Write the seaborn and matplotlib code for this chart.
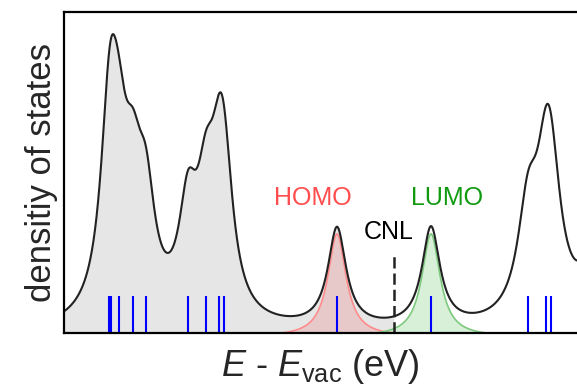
import numpy as np
import pandas as pd
import matplotlib
matplotlib.use("Agg")
import matplotlib.pyplot as plt
import seaborn as sns

# ---- data (energies in eV) ----
occupied_levels = [-10.20, -10.16, -10.00, -9.72, -9.46, -8.62, -8.26, -7.99, -7.89]
homo_level = -5.64
lumo_level = -3.76
unoccupied_levels = [-1.82, -1.46, -1.36]
hidden_levels = [-0.30, -0.25]          # just beyond the right edge (only their tails show)
cnl = -4.50
gamma_low = 0.22                         # Lorentzian half width (eV), up to the LUMO
gamma_high = 0.25                        # Lorentzian half width (eV), higher levels
x_range = (-11.10, -0.84)
label_y = "densitiy of states"
label_x = r"$E$ - $E_{\mathrm{vac}}$ (eV)"

sns.set_style("white")
plt.rcParams["font.family"] = ["Liberation Sans", "DejaVu Sans"]
plt.rcParams["mathtext.fontset"] = "custom"
plt.rcParams["mathtext.rm"] = "Liberation Sans"
plt.rcParams["mathtext.it"] = "Liberation Sans:italic"


def lorentz(e, e0, g):
    return g ** 2 / ((e - e0) ** 2 + g ** 2)


def tapered(e, e0, g, cut):
    lc = lorentz(e0 + cut, e0, g)
    return np.clip((lorentz(e, e0, g) - lc) / (1 - lc), 0, None)


E = np.linspace(x_range[0], x_range[1], 3000)
low_levels = occupied_levels + [homo_level, lumo_level]
high_levels = unoccupied_levels + hidden_levels
dos = sum(lorentz(E, l, gamma_low) for l in low_levels) + \
    sum(lorentz(E, l, gamma_high) for l in high_levels)
hw = 1.1
homo = tapered(E, homo_level, gamma_low, hw)
lumo = tapered(E, lumo_level, gamma_low, hw)

df = pd.DataFrame({"E": E, "dos": dos, "homo": homo, "lumo": lumo})
dh = df[(df["E"] > homo_level - hw) & (df["E"] < homo_level + hw)]
dl = df[(df["E"] > lumo_level - hw) & (df["E"] < lumo_level + hw)]

fig = plt.figure(figsize=(5.77, 3.87), dpi=100)
ax = fig.add_axes([64 / 577, 54 / 387, 1 - 64 / 577, 321 / 387])

occ = df["E"] <= cnl
ax.fill_between(df["E"][occ], 0, df["dos"][occ], color="#e6e6e6", lw=0, zorder=1)
ax.fill_between(dh["E"], 0, dh["homo"], color="#f08080", alpha=0.28, lw=0, zorder=2)
ax.fill_between(dl["E"], 0, dl["lumo"], color="#80d080", alpha=0.3, lw=0, zorder=2)
sns.lineplot(data=dh, x="E", y="homo", color="#ff8a8a", lw=1.2, ax=ax, zorder=3)
sns.lineplot(data=dl, x="E", y="lumo", color="#7cc87c", lw=1.2, ax=ax, zorder=3)
sns.lineplot(data=df, x="E", y="dos", color="#222222", lw=1.5, ax=ax, zorder=4)

ax.vlines(low_levels + high_levels, 0, 0.37, colors="#0000ff", lw=1.5, zorder=5)
ax.vlines([cnl], 0, 0.82, colors="#222222", lw=1.8, linestyles=(0, (4.5, 2.0)), zorder=5)

ax.text(cnl - 0.1, 1.02, "CNL", ha="center", va="center", fontsize=18, color="black")
ax.text(homo_level - 0.48, 1.36, "HOMO", ha="center", va="center", fontsize=18, color="#ff4d4d")
ax.text(lumo_level + 0.32, 1.36, "LUMO", ha="center", va="center", fontsize=18, color="#109a10")

ax.set_xlim(*x_range)
ax.set_ylim(0, 3.24)
ax.set_xticks([])
ax.set_yticks([])
ax.set_xlabel(label_x, fontsize=26, labelpad=10)
ax.set_ylabel(label_y, fontsize=25, labelpad=4)
for s in ["left", "bottom", "top"]:
    ax.spines[s].set_color("black")
    ax.spines[s].set_linewidth(1.6)
    ax.spines[s].set_zorder(10)
ax.spines["right"].set_visible(False)

fig.savefig("out.png", dpi=100)
